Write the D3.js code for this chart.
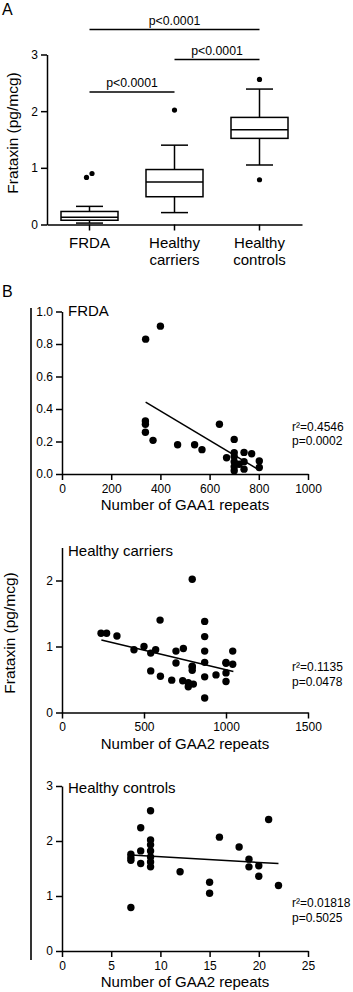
<!DOCTYPE html>
<html><head><meta charset="utf-8">
<script src="https://cdn.jsdelivr.net/npm/d3@7"></script>
<style>
html,body{margin:0;padding:0;background:#fff;}
svg{display:block;font-family:"Liberation Sans",Arial,sans-serif;}
</style></head>
<body>
<svg id="c" width="353" height="992"></svg>
<script>
// ---------- Panel A data ----------
const groups = ["FRDA", "Healthy carriers", "Healthy controls"];
const groupLabels = [["FRDA"], ["Healthy", "carriers"], ["Healthy", "controls"]];
const whiskerLow = [0.025, 0.21, 1.05];
const q1 = [0.075, 0.49, 1.52];
const median = [0.13, 0.75, 1.67];
const q3 = [0.23, 0.97, 1.89];
const whiskerHigh = [0.32, 1.40, 2.39];
const outliers = [[0.83, 0.90], [2.02], [2.56, 0.79]];
const outlierDx = [[-3, 2.5], [0], [0, 0]];
const aTicks = [0, 1, 2, 3];
const sigFrom = ["FRDA", "Healthy carriers", "FRDA"];
const sigTo = ["Healthy controls", "Healthy controls", "Healthy carriers"];
const sigLevel = [3.44, 2.91, 2.34];
const sigText = ["p<0.0001", "p<0.0001", "p<0.0001"];

// ---------- Panel B data ----------
const frdaGAA1 = [340, 400, 339, 339, 339, 370, 470, 539, 569, 640, 669, 700, 700, 700, 700, 700, 700, 740, 740, 740, 771, 802, 802, 720];
const frdaFxn  = [0.83, 0.91, 0.326, 0.306, 0.257, 0.207, 0.18, 0.18, 0.15, 0.306, 0.10, 0.213, 0.131, 0.107, 0.076, 0.045, 0.02, 0.133, 0.076, 0.03, 0.125, 0.08, 0.04, 0.06];
const frdaFit = [[340, 0.442], [795, 0.03]];
const frdaStats = ["r\u00B2=0.4546", "p=0.0002"];
const frdaXTicks = [0, 200, 400, 600, 800, 1000];
const frdaYTicks = [0, 0.2, 0.4, 0.6, 0.8, 1.0];

const carGAA2 = [238, 272, 335, 598, 794, 870, 870, 870, 870, 439, 500, 541, 571, 695, 740, 1041, 1000, 1041, 695, 794, 794, 794, 1000, 541, 600, 669, 736, 770, 801, 770, 870, 939, 1000, 1000, 870];
const carFxn  = [1.20, 1.20, 1.16, 1.40, 2.02, 1.38, 1.15, 0.93, 0.76, 0.95, 1.00, 0.90, 0.95, 0.93, 0.97, 0.93, 0.76, 0.73, 0.75, 0.70, 0.69, 0.64, 0.745, 0.63, 0.55, 0.49, 0.48, 0.45, 0.43, 0.39, 0.54, 0.57, 0.60, 0.47, 0.22];
const carFit = [[240, 1.10], [1045, 0.62]];
const carStats = ["r\u00B2=0.1135", "p=0.0478"];
const carXTicks = [0, 500, 1000, 1500];
const carYTicks = [0, 1, 2];

const conGAA2 = [9, 8, 9, 9, 9, 8, 7, 7, 8, 9, 9, 9, 12, 16, 18, 19, 19, 20, 20, 21, 15, 22, 15, 7, 7];
const conFxn  = [2.55, 2.24, 2.02, 1.93, 1.82, 1.82, 1.76, 1.65, 1.59, 1.71, 1.62, 1.53, 1.44, 2.07, 1.89, 1.67, 1.53, 1.55, 1.36, 2.39, 1.25, 1.19, 1.05, 0.79, 1.70];
const conFit = [[7, 1.745], [22, 1.59]];
const conStats = ["r\u00B2=0.01818", "p=0.5025"];
const conXTicks = [0, 5, 10, 15, 20, 25];
const conYTicks = [0, 1, 2, 3];

const svg = d3.select("#c");
const FONT = "Liberation Sans, Arial, sans-serif";

function styleAxis(g, fs) {
  g.selectAll("path.domain").attr("stroke", "#000").attr("stroke-width", 1.5);
  g.selectAll(".tick line").attr("stroke", "#000").attr("stroke-width", 1.5);
  g.selectAll(".tick text").attr("fill", "#000").attr("font-size", fs).attr("font-family", FONT);
}

// ---------- Panel A ----------
svg.append("text").attr("x", 2).attr("y", 15).attr("font-size", 16).text("A");

const ax = d3.scaleBand().domain(groups).range([47, 302]).padding(0);
const ay = d3.scaleLinear().domain([0, 3]).range([224.5, 54.5]);

const gAY = svg.append("g").attr("transform", "translate(47,0)")
  .call(d3.axisLeft(ay).tickValues(aTicks).tickFormat(d3.format("d")).tickSize(6).tickPadding(3).tickSizeOuter(0));
styleAxis(gAY, 12);
const gAX = svg.append("g").attr("transform", "translate(0,224.5)")
  .call(d3.axisBottom(ax).tickSize(6).tickSizeOuter(0).tickFormat(""));
styleAxis(gAX, 15);

// category labels
groups.forEach((g, i) => {
  const t = svg.append("text").attr("text-anchor", "middle").attr("font-size", 15)
    .attr("x", ax(g) + ax.bandwidth() / 2).attr("y", 247.5);
  groupLabels[i].forEach((line, j) => {
    t.append("tspan").attr("x", ax(g) + ax.bandwidth() / 2).attr("dy", j === 0 ? 0 : 17.5).text(line);
  });
});

svg.append("text").attr("transform", "translate(13,133) rotate(-90)")
  .attr("text-anchor", "middle").attr("dy", "0.35em").attr("font-size", 15.5).text("Frataxin (pg/mcg)");

const boxW = 57, capW = 27;
groups.forEach((g, i) => {
  const cx = ax(g) + ax.bandwidth() / 2;
  const gg = svg.append("g").attr("stroke", "#000").attr("stroke-width", 1.5).attr("fill", "none");
  gg.append("line").attr("x1", cx).attr("x2", cx).attr("y1", ay(whiskerLow[i])).attr("y2", ay(q1[i]));
  gg.append("line").attr("x1", cx).attr("x2", cx).attr("y1", ay(q3[i])).attr("y2", ay(whiskerHigh[i]));
  gg.append("line").attr("x1", cx - capW / 2).attr("x2", cx + capW / 2).attr("y1", ay(whiskerLow[i])).attr("y2", ay(whiskerLow[i]));
  gg.append("line").attr("x1", cx - capW / 2).attr("x2", cx + capW / 2).attr("y1", ay(whiskerHigh[i])).attr("y2", ay(whiskerHigh[i]));
  gg.append("rect").attr("x", cx - boxW / 2).attr("width", boxW)
    .attr("y", ay(q3[i])).attr("height", ay(q1[i]) - ay(q3[i])).attr("fill", "#fff");
  gg.append("line").attr("x1", cx - boxW / 2).attr("x2", cx + boxW / 2).attr("y1", ay(median[i])).attr("y2", ay(median[i]));
  outliers[i].forEach((v, k) => {
    svg.append("circle").attr("cx", cx + outlierDx[i][k]).attr("cy", ay(v)).attr("r", 2.6).attr("fill", "#000");
  });
});

sigLevel.forEach((lv, i) => {
  const x1 = ax(sigFrom[i]) + ax.bandwidth() / 2, x2 = ax(sigTo[i]) + ax.bandwidth() / 2;
  svg.append("line").attr("x1", x1).attr("x2", x2).attr("y1", ay(lv)).attr("y2", ay(lv))
    .attr("stroke", "#000").attr("stroke-width", 1.5);
  svg.append("text").attr("x", (x1 + x2) / 2).attr("y", ay(lv) - 4.5).attr("text-anchor", "middle")
    .attr("font-size", 12.3).text(sigText[i]);
});

// ---------- Panel B ----------
svg.append("text").attr("x", 2).attr("y", 297).attr("font-size", 16).text("B");
svg.append("line").attr("x1", 31).attr("x2", 31).attr("y1", 308).attr("y2", 960).attr("stroke", "#000").attr("stroke-width", 1.6);
svg.append("text").attr("transform", "translate(10,633) rotate(-90)")
  .attr("text-anchor", "middle").attr("dy", "0.35em").attr("font-size", 15.5).text("Frataxin (pg/mcg)");

function scatter(cfg) {
  const x = d3.scaleLinear().domain(cfg.xDomain).range([62, 308]);
  const y = d3.scaleLinear().domain(cfg.yDomain).range([cfg.y0, cfg.yTop]);
  const gy = svg.append("g").attr("transform", "translate(62,0)")
    .call(d3.axisLeft(y).tickValues(cfg.yTicks).tickFormat(cfg.yFmt).tickSize(6).tickPadding(3).tickSizeOuter(0));
  styleAxis(gy, 12);
  const gx = svg.append("g").attr("transform", `translate(0,${cfg.y0})`)
    .call(d3.axisBottom(x).tickValues(cfg.xTicks).tickFormat(d3.format("d")).tickSize(6).tickPadding(4).tickSizeOuter(0));
  styleAxis(gx, 12);
  svg.append("text").attr("x", 68).attr("y", cfg.titleY).attr("font-size", 15).text(cfg.title);
  svg.append("text").attr("x", 185).attr("y", cfg.y0 + 36).attr("text-anchor", "middle").attr("font-size", 15).text(cfg.xLabel);
  svg.append("g").selectAll("circle").data(cfg.xs).join("circle")
    .attr("cx", (d) => x(d)).attr("cy", (d, i) => y(cfg.ys[i])).attr("r", 3.7).attr("fill", "#000");
  svg.append("line").attr("x1", x(cfg.fit[0][0])).attr("y1", y(cfg.fit[0][1]))
    .attr("x2", x(cfg.fit[1][0])).attr("y2", y(cfg.fit[1][1])).attr("stroke", "#000").attr("stroke-width", 1.5);
  cfg.stats.forEach((s, i) => {
    svg.append("text").attr("x", 292).attr("y", cfg.statsY + i * 14.5).attr("font-size", 12).text(s);
  });
}

scatter({ xDomain: [0, 1000], yDomain: [0, 1], y0: 474, yTop: 311.5, xTicks: frdaXTicks, yTicks: frdaYTicks,
  yFmt: d3.format(".1f"), title: "FRDA", titleY: 316, xLabel: "Number of GAA1 repeats",
  xs: frdaGAA1, ys: frdaFxn, fit: frdaFit, stats: frdaStats, statsY: 430.5 });

scatter({ xDomain: [0, 1500], yDomain: [0, 2.5], y0: 712.5, yTop: 547.5, xTicks: carXTicks, yTicks: carYTicks,
  yFmt: d3.format("d"), title: "Healthy carriers", titleY: 555.5, xLabel: "Number of GAA2 repeats",
  xs: carGAA2, ys: carFxn, fit: carFit, stats: carStats, statsY: 671 });

scatter({ xDomain: [0, 25], yDomain: [0, 3], y0: 951, yTop: 786, xTicks: conXTicks, yTicks: conYTicks,
  yFmt: d3.format("d"), title: "Healthy controls", titleY: 792.5, xLabel: "Number of GAA2 repeats",
  xs: conGAA2, ys: conFxn, fit: conFit, stats: conStats, statsY: 907 });
</script>
</body></html>
